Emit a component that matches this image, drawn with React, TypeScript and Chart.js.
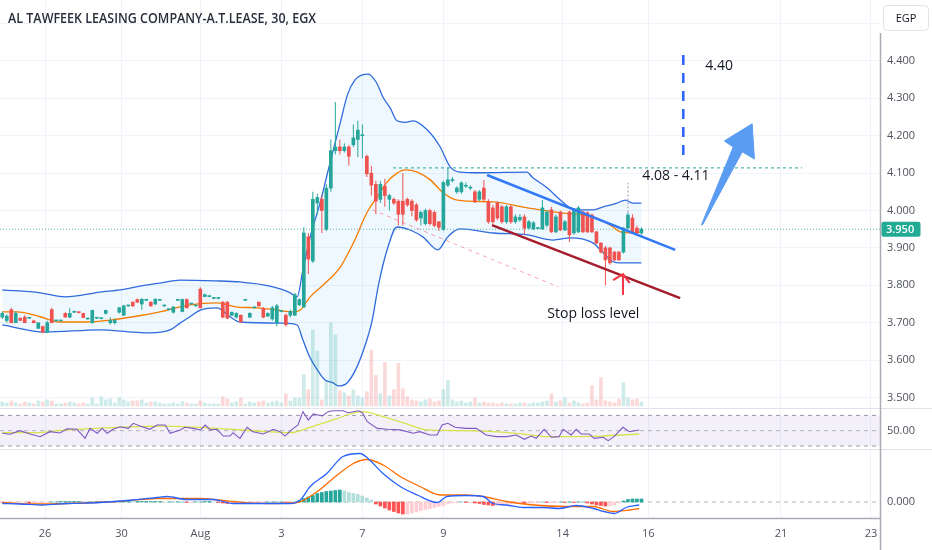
import React, { useEffect, useRef } from "react";
import { Chart, registerables } from "chart.js";

Chart.register(...registerables);

const TITLE = "AL TAWFEEK LEASING COMPANY-A.T.LEASE, 30, EGX";
const CURRENCY = "EGP";
const LAST_PRICE = 3.95;

// x axis: bar index positions of the date labels
const dateTickPos = [9.5, 26.5, 44, 62, 80, 98, 124.5, 143.5, 173, 193];
const dateTickLabels = ["26", "30", "Aug", "3", "7", "9", "14", "16", "21", "23"];
const priceTicks = [3.5, 3.6, 3.7, 3.8, 3.9, 4.0, 4.1, 4.2, 4.3, 4.4, 4.5];
const rsiTicks = [50];
const macdTicks = [0];

// 30-minute candles: [open, high, low, close]
const candles: number[][] = [
  [3.715, 3.73, 3.71, 3.725], [3.706, 3.722, 3.7, 3.718], [3.735, 3.74, 3.7, 3.7], [3.7, 3.73, 3.7, 3.725],
  [3.712, 3.715, 3.705, 3.706], [3.715, 3.72, 3.7, 3.7], [3.712, 3.714, 3.71, 3.712], [3.705, 3.708, 3.7, 3.7],
  [3.685, 3.7, 3.683, 3.7], [3.69, 3.692, 3.672, 3.675], [3.675, 3.705, 3.672, 3.7], [3.735, 3.74, 3.7, 3.7],
  [3.705, 3.707, 3.703, 3.705], [3.705, 3.707, 3.703, 3.705], [3.725, 3.728, 3.714, 3.715], [3.715, 3.74, 3.712, 3.725],
  [3.728, 3.732, 3.726, 3.728], [3.728, 3.73, 3.725, 3.727], [3.725, 3.727, 3.712, 3.714], [3.71, 3.712, 3.708, 3.71],
  [3.7, 3.735, 3.698, 3.733], [3.712, 3.714, 3.71, 3.712], [3.711, 3.713, 3.709, 3.711], [3.725, 3.735, 3.722, 3.733],
  [3.7, 3.715, 3.695, 3.706], [3.7, 3.712, 3.695, 3.706], [3.728, 3.742, 3.725, 3.74], [3.72, 3.748, 3.718, 3.745],
  [3.745, 3.747, 3.743, 3.745], [3.755, 3.757, 3.743, 3.745], [3.762, 3.765, 3.753, 3.755], [3.75, 3.765, 3.735, 3.763],
  [3.76, 3.762, 3.758, 3.76], [3.755, 3.757, 3.743, 3.745], [3.75, 3.765, 3.748, 3.763], [3.76, 3.762, 3.758, 3.76],
  [3.745, 3.747, 3.743, 3.745], [3.735, 3.737, 3.733, 3.735], [3.728, 3.745, 3.725, 3.742], [3.76, 3.762, 3.758, 3.76],
  [3.73, 3.765, 3.728, 3.762], [3.762, 3.765, 3.738, 3.74], [3.75, 3.752, 3.748, 3.75], [3.745, 3.747, 3.743, 3.745],
  [3.79, 3.795, 3.738, 3.74], [3.77, 3.778, 3.768, 3.775], [3.77, 3.772, 3.768, 3.77], [3.765, 3.767, 3.763, 3.765],
  [3.765, 3.767, 3.763, 3.765], [3.755, 3.758, 3.712, 3.715], [3.755, 3.758, 3.71, 3.712], [3.72, 3.73, 3.718, 3.728],
  [3.715, 3.728, 3.712, 3.725], [3.72, 3.722, 3.7, 3.702], [3.76, 3.762, 3.758, 3.76], [3.715, 3.728, 3.712, 3.725],
  [3.74, 3.742, 3.738, 3.74], [3.755, 3.757, 3.743, 3.745], [3.738, 3.742, 3.712, 3.715], [3.718, 3.728, 3.715, 3.725],
  [3.71, 3.745, 3.705, 3.74], [3.7, 3.75, 3.69, 3.745], [3.73, 3.732, 3.728, 3.73], [3.72, 3.725, 3.69, 3.695],
  [3.72, 3.735, 3.715, 3.73], [3.72, 3.78, 3.718, 3.775], [3.748, 3.765, 3.745, 3.762], [3.742, 3.955, 3.74, 3.94],
  [3.93, 3.94, 3.83, 3.87], [3.865, 4.05, 3.86, 4.03], [4.02, 4.045, 3.99, 4.035], [4.03, 4.04, 3.94, 4.0],
  [3.95, 4.07, 3.945, 4.06], [4.06, 4.19, 4.05, 4.16], [4.16, 4.29, 4.15, 4.17], [4.17, 4.19, 4.15, 4.16],
  [4.16, 4.18, 4.155, 4.17], [4.17, 4.175, 4.12, 4.145], [4.176, 4.23, 4.17, 4.194], [4.19, 4.24, 4.143, 4.215],
  [4.2, 4.23, 4.14, 4.202], [4.145, 4.15, 4.09, 4.098], [4.1, 4.12, 4.04, 4.068], [4.07, 4.08, 3.99, 4.025],
  [4.03, 4.08, 4.02, 4.07], [4.065, 4.085, 4.01, 4.04], [4.03, 4.045, 4.0, 4.04], [4.03, 4.035, 4.015, 4.02],
  [4.025, 4.03, 3.96, 3.99], [4.025, 4.1, 3.96, 3.99], [4.03, 4.035, 4.01, 4.015], [4.025, 4.03, 3.985, 4.0],
  [4.015, 4.02, 3.97, 3.975], [3.98, 4.0, 3.96, 3.995], [3.965, 4.005, 3.96, 4.0], [4.0, 4.005, 3.96, 3.965],
  [3.995, 4.0, 3.955, 3.96], [3.97, 3.972, 3.945, 3.955], [3.95, 4.08, 3.945, 4.075], [4.068, 4.114, 4.063, 4.082],
  [4.08, 4.09, 4.075, 4.08], [4.05, 4.065, 4.045, 4.06], [4.05, 4.078, 4.045, 4.074], [4.065, 4.075, 4.06, 4.065],
  [4.06, 4.066, 4.055, 4.062], [4.05, 4.055, 4.02, 4.023], [4.03, 4.055, 4.025, 4.05], [4.06, 4.082, 4.025, 4.03],
  [4.023, 4.03, 3.965, 3.97], [4.007, 4.015, 3.965, 3.97], [4.02, 4.025, 3.975, 3.98], [4.01, 4.015, 3.965, 3.97],
  [3.97, 4.015, 3.965, 4.01], [4.01, 4.015, 3.965, 3.97], [3.97, 3.99, 3.965, 3.983], [3.975, 3.99, 3.97, 3.982],
  [3.983, 3.99, 3.935, 3.953], [3.953, 3.975, 3.95, 3.97], [3.951, 3.972, 3.948, 3.967], [3.952, 3.955, 3.95, 3.953],
  [3.951, 4.028, 3.948, 4.007], [3.961, 4.0, 3.955, 3.996], [4.002, 4.01, 3.94, 3.943], [3.943, 3.99, 3.94, 3.983],
  [3.996, 4.0, 3.945, 3.948], [3.948, 3.975, 3.945, 3.97], [3.996, 4.0, 3.916, 3.935], [3.94, 4.005, 3.935, 4.002],
  [3.943, 4.012, 3.94, 4.007], [3.996, 4.0, 3.94, 3.943], [3.994, 3.998, 3.94, 3.943], [3.988, 3.992, 3.94, 3.943],
  [3.943, 3.945, 3.91, 3.913], [3.913, 3.915, 3.885, 3.889], [3.9, 3.905, 3.8, 3.868], [3.9, 3.903, 3.855, 3.86],
  [3.889, 3.892, 3.865, 3.868], [3.889, 3.892, 3.865, 3.868], [3.889, 3.955, 3.885, 3.953], [3.953, 3.995, 3.95, 3.988],
  [3.98, 3.99, 3.938, 3.943], [3.953, 3.96, 3.935, 3.94], [3.94, 3.955, 3.935, 3.95],
];

// volume per bar (thousand shares)
const volumes = [
  4, 3, 5, 3, 2, 4, 3, 2, 5, 4, 6, 5, 2, 2, 3, 4, 3, 2, 3, 2,
  8, 2, 9, 6, 7, 3, 8, 6, 4, 5, 5, 6, 3, 4, 4, 3, 2, 2, 3, 2,
  4, 3, 2, 2, 5, 3, 2, 2, 2, 9, 7, 3, 4, 8, 2, 4, 3, 4, 5, 3,
  4, 5, 3, 12, 5, 8, 8, 31, 16, 75, 54, 6, 25, 82, 70, 15, 13, 10, 16, 10,
  8, 14, 55, 30, 12, 43, 10, 16, 42, 17, 9, 6, 5, 4, 6, 7, 4, 5, 16, 25,
  6, 4, 5, 3, 4, 8, 3, 4, 3, 3, 2, 3, 2, 2, 2, 3, 3, 2, 3, 3,
  4, 5, 12, 4, 5, 8, 3, 5, 3, 2, 3, 20, 6, 28, 5, 4, 3, 7, 23, 8,
  6, 7, 4,
];

// MACD histogram per bar (in thousandths)
const macdHistMilli = [
  -2, -2, -2, -2, -1, -1, -2, -2, -1, -1, -1, 0, 0, 1, 1, 1, 1, 1, 0, 0,
  0, 1, 1, 1, 1, 1, 2, 2, 2, 1, 1, 1, 1, 1, 1, 1, 0, 0, 0, 0,
  0, -1, -1, 0, 0, 1, 1, 0, -1, -2, -3, -3, -3, -2, -2, -1, -1, -1, -1, 0,
  0, 0, 0, -1, -1, 0, 3, 7, 10, 13, 17, 19, 21, 22, 23, 24, 22, 19, 17, 15,
  12, 8, 4, -4, -8, -12, -16, -19, -22, -24, -24, -22, -20, -17, -15, -13, -11, -9, -7, -4,
  -2, -1, 0, -1, -1, -2, -3, -5, -6, -7, -7, -6, -5, -4, -3, -2, -3, -2, -2, -1,
  0, -1, -1, -1, 0, -1, 0, -1, 0, 0, -2, -4, -6, -7, -8, -8, -6, -2, 2, 5,
  6, 6, 6,
];

// Bollinger Bands: [bar index, price]
const bbUpper = [
  [0, 3.788], [8.4, 3.78], [14, 3.769], [21.7, 3.782], [26.2, 3.788], [30.6, 3.798], [35, 3.806], [39.5, 3.814],
  [47.3, 3.812], [52.8, 3.809], [59.5, 3.798], [64, 3.78], [65.5, 3.769], [66.8, 3.841], [68.4, 3.929], [70.6, 4.02],
  [72.8, 4.127], [75.1, 4.235], [76.7, 4.31], [78.4, 4.35], [80, 4.363], [81.3, 4.365], [83.1, 4.343], [84.6, 4.303],
  [86.2, 4.274], [87.7, 4.24], [89.5, 4.236], [91.3, 4.24], [94.4, 4.216], [97.3, 4.17], [99.5, 4.117], [101.7, 4.103],
  [106.2, 4.101], [116.6, 4.103], [117.7, 4.09], [121.1, 4.06], [124, 4.028], [126.2, 4.007], [128.4, 4.002],
  [131.3, 4.002], [133.5, 4.01], [136.6, 4.02], [138.4, 4.028], [140, 4.02], [142, 4.02],
];
const bbLower = [
  [0, 3.694], [9.5, 3.675], [21.7, 3.681], [29.1, 3.675], [32.8, 3.673], [37.3, 3.681], [39.5, 3.699], [41.7, 3.716],
  [44, 3.734], [47.7, 3.74], [50.6, 3.716], [52.8, 3.702], [62.4, 3.699], [65.5, 3.694], [66.8, 3.654], [68.4, 3.606],
  [70, 3.574], [71.7, 3.547], [73.5, 3.539], [74.6, 3.531], [76.6, 3.539], [78.8, 3.582], [81, 3.654], [82.2, 3.707],
  [83.5, 3.796], [85.5, 3.895], [87.7, 3.956], [90.6, 3.948], [93.5, 3.929], [96.8, 3.895], [98.8, 3.927],
  [100.2, 3.943], [101.7, 3.951], [109.1, 3.94], [116.6, 3.935], [122.4, 3.921], [126.2, 3.927], [131.3, 3.913],
  [133.5, 3.887], [135.7, 3.863], [137.3, 3.86], [142, 3.86],
];
const bbBasis = [
  [0, 3.729], [3.3, 3.729], [8.4, 3.716], [12.8, 3.702], [18.8, 3.702], [23.9, 3.707], [29.1, 3.716], [35, 3.729],
  [41.7, 3.748], [47.7, 3.753], [52.2, 3.742], [56.6, 3.74], [61, 3.734], [64.6, 3.729], [66.2, 3.734], [68.4, 3.769],
  [71.3, 3.801], [75.1, 3.849], [78, 3.913], [81, 3.994], [83.3, 4.036], [85.5, 4.076], [87.7, 4.1], [89.5, 4.109],
  [92.2, 4.103], [95.1, 4.082], [98, 4.047], [101.1, 4.028], [109.1, 4.023], [116.6, 4.007], [124, 3.994],
  [131.3, 3.983], [135.1, 3.961], [137.3, 3.943], [140.2, 3.94], [142, 3.943],
];

// RSI and its moving average: [bar index, value]
const rsiLine = [
  [0, 46.6], [1.7, 45.3], [3.9, 50], [6.2, 45.7], [8.4, 42.2], [10.6, 48.7], [12.8, 47], [14.4, 52.6], [16.6, 51.8],
  [18.4, 40], [19.5, 53], [21.1, 46.6], [22.2, 53], [23.3, 46.6], [24.6, 51.8], [26.2, 55.2], [28, 53], [29.1, 59.6],
  [30.6, 56], [32.8, 51.8], [34.4, 57.4], [36.2, 57.4], [37.3, 46.6], [39.5, 51], [40.6, 54.4], [42.4, 53], [44, 51],
  [45.1, 57.4], [46.2, 51], [47.7, 51.8], [49.1, 43], [50.6, 43], [51.3, 47.4], [52.8, 40], [54.4, 54.4], [55.7, 48.7],
  [58, 45.7], [60.2, 51.8], [61.7, 48.7], [62.8, 43], [64.4, 51.8], [65.7, 57.4], [66.8, 74.8], [68, 64], [69.1, 71.8],
  [71.1, 69.2], [72.4, 74.8], [73.5, 76], [75.7, 76], [76.8, 73.5], [78, 74.8], [79.1, 76], [80, 73.5], [81.1, 61.7],
  [83.3, 53], [85.5, 51.8], [88.4, 51], [91.3, 46.6], [92.8, 48.7], [95, 44.4], [96.6, 44.4], [97.7, 57.4], [99, 59.6],
  [100.6, 54.4], [103, 53], [105.3, 53], [107.5, 44.4], [109.7, 42.2], [112, 42.2], [114.2, 44.4], [116, 38.8],
  [117.5, 43], [118.6, 40], [120.4, 51.8], [122, 41.4], [123.7, 42.2], [124.6, 51.8], [126.4, 44.4], [127.5, 51.8],
  [128.6, 45.7], [130.4, 45.7], [131.5, 40], [133.5, 41.4], [134.6, 37], [135.9, 42.2], [137.9, 54.4], [139.3, 48.7],
  [141.5, 51],
];
const rsiMa = [
  [0, 47.4], [7, 47.4], [14.4, 51], [25.5, 54.4], [36.6, 56], [47.7, 53], [58.8, 48.7], [64, 47.4], [68.4, 54.4],
  [73.5, 64], [80, 74.8], [84.6, 68.3], [90, 58.7], [94.4, 51], [103, 50], [114.2, 46.6], [121.5, 42.2], [132.6, 43],
  [141.5, 45.7],
];

// MACD and signal lines: [bar index, value]
const macdLine = [
  [0, -0.003], [4, -0.004], [9, -0.006], [14.4, -0.003], [21.7, -0.001], [29.1, 0.004], [34.4, 0.009], [36.6, 0.011],
  [41, 0.005], [46.8, 0.005], [51.3, -0.003], [58.8, -0.003], [64, -0.003], [66.2, 0.004], [68.4, 0.031], [72.1, 0.057],
  [75.7, 0.091], [79.5, 0.097], [81, 0.089], [84.6, 0.057], [88.4, 0.031], [92.2, 0.014], [96.6, -0.001], [98.8, 0.011],
  [103, 0.013], [106.8, 0.011], [109, -0.003], [112, -0.006], [115.7, -0.011], [120.2, -0.011], [123.7, -0.013],
  [127.5, -0.007], [131.3, -0.013], [133.7, -0.019], [136, -0.023], [138.6, -0.011], [141.5, -0.006],
];
const signalLine = [
  [0, -0.001], [7, -0.004], [14.4, -0.003], [25.5, 0.001], [34.4, 0.007], [44, 0.007], [51.3, 0.001], [58.8, -0.003],
  [65.5, -0.001], [70, 0.021], [73.5, 0.047], [78, 0.077], [81, 0.085], [84.6, 0.074], [88.4, 0.051], [92.8, 0.031],
  [97.3, 0.014], [103, 0.014], [106.8, 0.011], [112, 0.001], [118, -0.006], [125.3, -0.009], [131.3, -0.009],
  [135.7, -0.019], [139.3, -0.016], [141.5, -0.013],
];

// drawings on the chart (bar index, price)
const resistanceLevel = [[86.8, 4.114], [177.7, 4.114]];
const targetMarker = [[151.3, 4.416], [151.3, 4.135]];
const upperTrend = [[107.7, 4.095], [149.5, 3.895]];
const lowerTrend = [[108.8, 3.961], [150.6, 3.766]];
const faintTrend = [[82.2, 4.002], [123.5, 3.796]];
const wickMarker = [[139, 3.995], [139, 4.074]];
const upArrow = [
  [155.3, 3.961], [162.4, 4.17], [160.4, 4.186], [166.6, 4.232], [167.1, 4.138], [164.4, 4.157], [155.7, 3.964], [155.3, 3.961],
];
const stopArrowShaft = [[137.7, 3.777], [137.9, 3.83]];
const stopArrowHead = [[135.7, 3.814], [137.9, 3.83], [139.4, 3.806]];
const annotationTexts = [
  { text: "4.40", x: 156.2, y: 4.387 },
  { text: "4.08 - 4.11", x: 142.2, y: 4.0925 },
  { text: "Stop loss level", x: 121.1, y: 3.7235 },
];

const UP = "#26a69a";
const DOWN = "#ef5350";
const TICK_FONT = { family: "'Open Sans', sans-serif", size: 11 };
const TICK_COLOR = "#50535e";

const pts = (arr: number[][]) => arr.map((p) => ({ x: p[0], y: p[1] }));

const overlayPlugin = {
  id: "overlay",
  afterDraw(chart: any) {
    const ctx = chart.ctx;
    const area = chart.chartArea;
    const xs = chart.scales.x;
    const ys = chart.scales.y;
    ctx.save();
    // pane separators
    ctx.strokeStyle = "#e0e3eb";
    ctx.lineWidth = 1;
    for (const id of ["yRsi", "yMacd"]) {
      const t = Math.round(chart.scales[id].top) + 0.5;
      ctx.beginPath();
      ctx.moveTo(0, t);
      ctx.lineTo(chart.width, t);
      ctx.stroke();
    }
    // axis borders
    ctx.strokeStyle = "#a9acb4";
    ctx.lineWidth = 1.5;
    ctx.beginPath();
    ctx.moveTo(area.right + 0.5, 33);
    ctx.lineTo(area.right + 0.5, chart.height);
    ctx.moveTo(0, area.bottom + 0.5);
    ctx.lineTo(area.right, area.bottom + 0.5);
    ctx.stroke();
    // title
    ctx.fillStyle = "#2a2e39";
    ctx.font = "600 14px 'Open Sans', sans-serif";
    ctx.textBaseline = "middle";
    ctx.textAlign = "left";
    ctx.fillText(TITLE, 8, 19, 308);
    // currency box
    ctx.fillStyle = "#ffffff";
    ctx.strokeStyle = "#e0e3eb";
    ctx.lineWidth = 1;
    ctx.beginPath();
    ctx.roundRect(883.5, 5.5, 45, 25, 4);
    ctx.fill();
    ctx.stroke();
    ctx.fillStyle = "#131722";
    ctx.font = "11px 'Open Sans', sans-serif";
    ctx.textAlign = "center";
    ctx.fillText(CURRENCY, 906, 18.5);
    // last price label
    const py = ys.getPixelForValue(LAST_PRICE);
    ctx.fillStyle = "#22ab94";
    ctx.beginPath();
    ctx.roundRect(area.right + 1.5, py - 7.5, 39, 15, 2);
    ctx.fill();
    ctx.fillStyle = "#ffffff";
    ctx.font = "600 11px 'Open Sans', sans-serif";
    ctx.textAlign = "left";
    ctx.fillText(LAST_PRICE.toFixed(3), area.right + 6, py + 0.5);
    // annotation texts
    ctx.fillStyle = "#131722";
    ctx.font = "14px 'Open Sans', sans-serif";
    for (const t of annotationTexts) {
      ctx.fillText(t.text, xs.getPixelForValue(t.x), ys.getPixelForValue(t.y));
    }
    ctx.restore();
  },
};

export default function App() {
  const ref = useRef<HTMLCanvasElement>(null);

  useEffect(() => {
    const canvas = ref.current;
    if (!canvas) return;
    const isUp = candles.map((c) => c[3] >= c[0]);
    const candleColors = isUp.map((u) => (u ? UP : DOWN));
    const volColors = isUp.map((u) => (u ? "rgba(38,166,154,0.22)" : "rgba(239,83,80,0.22)"));
    const histColors = macdHistMilli.map((v, i) => {
      const prev = i > 0 ? macdHistMilli[i - 1] : v;
      if (v >= 0) return v >= prev ? "#26a69a" : "#b2dfdb";
      return v < prev ? "#ff5252" : "#ffcdd2";
    });

    const line = (data: number[][], color: string, width: number, axis: string, extra: any = {}) => ({
      type: "line",
      data: pts(data),
      borderColor: color,
      backgroundColor: color,
      borderWidth: width,
      pointRadius: 0,
      yAxisID: axis,
      fill: false,
      ...extra,
    });
    const fullSpan = (v: number) => [[-0.5, v], [195, v]];

    // listed from bottom layer to top layer
    const layers: any[] = [
      line(bbUpper, "#2f6bdc", 1.3, "y", {
        cubicInterpolationMode: "monotone",
        fill: { target: "+1", above: "rgba(33,150,243,0.07)", below: "rgba(33,150,243,0.07)" },
      }),
      line(bbLower, "#2f6bdc", 1.3, "y", { cubicInterpolationMode: "monotone" }),
      {
        type: "bar",
        data: volumes.map((v, i) => ({ x: i, y: v })),
        backgroundColor: volColors,
        barThickness: 3,
        grouped: false,
        borderWidth: 0,
        yAxisID: "yVol",
      },
      line(fullSpan(70), "#9598a1", 1, "yRsi", {
        borderDash: [4, 4],
        fill: { target: "+1", above: "rgba(126,87,194,0.09)", below: "rgba(126,87,194,0.09)" },
      }),
      line(fullSpan(30), "#9598a1", 1, "yRsi", { borderDash: [4, 4] }),
      line(fullSpan(50), "#b2b5be", 1, "yRsi", { borderDash: [4, 4] }),
      line(fullSpan(0), "#b2b5be", 1, "yMacd", { borderDash: [4, 4] }),
      line(fullSpan(LAST_PRICE), "#5fb8ad", 1, "y", { borderDash: [1, 2] }),
      line(faintTrend, "rgba(242,54,69,0.45)", 1, "y", { borderDash: [4, 4] }),
      line(bbBasis, "#f57c00", 1.3, "y", { cubicInterpolationMode: "monotone" }),
      {
        type: "bar",
        data: candles.map((c, i) => ({ x: i, y: [c[2], c[1]] })),
        backgroundColor: candleColors,
        barThickness: 1,
        grouped: false,
        borderWidth: 0,
        inflateAmount: 0,
        yAxisID: "y",
      },
      {
        type: "bar",
        data: candles.map((c, i) => ({ x: i, y: [c[0], c[3]] })),
        backgroundColor: candleColors,
        barThickness: 3,
        minBarLength: 1,
        grouped: false,
        borderWidth: 0,
        yAxisID: "y",
      },
      {
        type: "bar",
        data: macdHistMilli.map((v, i) => ({ x: i, y: v / 1000 })),
        backgroundColor: histColors,
        barThickness: 3,
        grouped: false,
        borderWidth: 0,
        yAxisID: "yMacd",
      },
      line(signalLine, "#ff6d00", 1.3, "yMacd", { cubicInterpolationMode: "monotone" }),
      line(macdLine, "#2962ff", 1.3, "yMacd", { cubicInterpolationMode: "monotone" }),
      line(rsiMa, "#d7e34a", 1.3, "yRsi", { cubicInterpolationMode: "monotone" }),
      line(rsiLine, "#7e57c2", 1.1, "yRsi"),
      line(wickMarker, "#9598a1", 1, "y", { borderDash: [2, 2] }),
      line(resistanceLevel, "#26a69a", 1, "y", { borderDash: [3, 3] }),
      line(targetMarker, "#2962ff", 2.5, "y", { borderDash: [10, 8] }),
      line(upperTrend, "#3179f5", 2.5, "y"),
      line(lowerTrend, "#a51d2d", 2.5, "y"),
      line(stopArrowShaft, "#f23645", 2, "y"),
      line(stopArrowHead, "#f23645", 2, "y"),
      line(upArrow, "#5a9cf2", 1, "y", { fill: "shape", backgroundColor: "#5a9cf2" }),
    ];
    const n = layers.length;
    layers.forEach((d, i) => (d.order = n - i));

    const paneY = (extra: any) => ({
      type: "linear",
      position: "right",
      stack: "R",
      bounds: "data",
      border: { display: false },
      afterFit: (s: any) => {
        s.width = 52;
        s.paddingTop = 0;
        s.paddingBottom = 0;
      },
      ...extra,
    });

    const chart = new Chart(canvas, {
      type: "line",
      data: { datasets: layers },
      options: {
        animation: false,
        responsive: false,
        events: [],
        layout: { padding: 0 },
        plugins: { legend: { display: false }, tooltip: { enabled: false }, title: { display: false } },
        scales: {
          x: {
            type: "linear",
            position: "bottom",
            min: -0.5,
            max: 195,
            offset: false,
            bounds: "data",
            border: { display: false },
            grid: { color: "#f0f3fa", drawTicks: false, offset: false },
            afterBuildTicks: (s: any) => {
              s.ticks = dateTickPos.map((v) => ({ value: v }));
            },
            ticks: {
              autoSkip: false,
              maxRotation: 0,
              padding: 9,
              color: TICK_COLOR,
              font: TICK_FONT,
              callback: (_v: any, idx: number) => dateTickLabels[idx],
            },
            afterFit: (s: any) => {
              s.height = 32;
              s.paddingLeft = 0;
              s.paddingRight = 0;
            },
          },
          y: paneY({
            stackWeight: 408,
            min: 3.472,
            max: 4.563,
            grid: { color: "#f0f3fa", drawTicks: false },
            afterBuildTicks: (s: any) => {
              s.ticks = priceTicks.map((v) => ({ value: v }));
            },
            ticks: {
              autoSkip: false,
              padding: 7,
              color: TICK_COLOR,
              font: TICK_FONT,
              callback: (v: any) => (Number(v) > 4.45 ? "" : Number(v).toFixed(3)),
            },
          }),
          yRsi: paneY({
            stackWeight: 41,
            min: 26.1,
            max: 79.6,
            grid: { display: false, drawTicks: false },
            afterBuildTicks: (s: any) => {
              s.ticks = rsiTicks.map((v) => ({ value: v }));
            },
            ticks: { padding: 7, color: TICK_COLOR, font: TICK_FONT, callback: (v: any) => Number(v).toFixed(2) },
          }),
          yMacd: paneY({
            stackWeight: 69,
            min: -0.032,
            max: 0.106,
            grid: { display: false, drawTicks: false },
            afterBuildTicks: (s: any) => {
              s.ticks = macdTicks.map((v) => ({ value: v }));
            },
            ticks: { padding: 7, color: TICK_COLOR, font: TICK_FONT, callback: (v: any) => Number(v).toFixed(3) },
          }),
          yVol: {
            type: "linear",
            position: "left",
            stack: "L",
            stackWeight: 408,
            weight: 1,
            display: false,
            min: -2,
            max: 400,
          },
          yPad: {
            type: "linear",
            position: "left",
            stack: "L",
            stackWeight: 110,
            weight: 0,
            display: false,
            min: 0,
            max: 1,
          },
        },
      } as any,
      plugins: [overlayPlugin],
    } as any);

    return () => chart.destroy();
  }, []);

  return (
    <div style={{ position: "fixed", left: 0, top: 0, width: 932, height: 550, background: "#ffffff" }}>
      <canvas ref={ref} width={932} height={550} style={{ display: "block", width: 932, height: 550 }} />
    </div>
  );
}
